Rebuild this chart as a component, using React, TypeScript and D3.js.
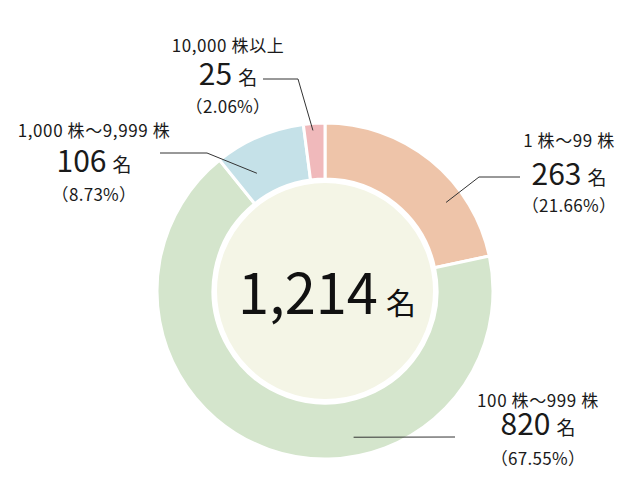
import { arc, pie, format, line } from "d3";

const width = 633;
const height = 500;
const cx = 325;
const cy = 291;
const outerR = 168;
const innerR = 112;
const coreR = 109;

const categories = ["1 株〜99 株", "100 株〜999 株", "1,000 株〜9,999 株", "10,000 株以上"];
const holders = [263, 820, 106, 25];
const shareLabels = ["21.66%", "67.55%", "8.73%", "2.06%"];
const colors = ["#eec4a9", "#d4e5cc", "#c5e1e8", "#f0b9bb"];

// label layout: centre x, baselines of the three lines
const labelX = [569, 538, 94, 228];
const labelY = [
  [147, 185, 212],
  [407, 435, 465],
  [137, 172, 201],
  [52, 85, 113],
];
// leader: points from the label side, then angle fraction in the slice + radius for the end
const leaderFrom = [
  [[520, 177], [479, 177]],
  [[455, 437]],
  [[160, 153], [207, 153]],
  [[263, 79], [298, 79]],
];
const anchorFrac = [0.69, 0.374, 0.28, 0.42];
const anchorR = [150, 149, 136, 161];

const font = "'Noto Sans CJK JP', 'Noto Sans', sans-serif";

function App() {
  const total = holders.reduce((a, b) => a + b, 0);
  const arcs = pie<number>().sort(null).value((d) => d)(holders);
  const arcGen = arc<any>().innerRadius(innerR).outerRadius(outerR);
  const fmt = format(",");
  const lineGen = line();

  return (
    <svg
      width={width}
      height={height}
      style={{ position: "absolute", left: 0, top: 0, background: "#fff" }}
      fontFamily={font}
    >
      <g transform={`translate(${cx},${cy})`}>
        {arcs.map((a, i) => (
          <path key={i} d={arcGen(a) || ""} fill={colors[i]} stroke="#fff" strokeWidth={3} />
        ))}
        <circle r={coreR} fill="#f4f5e6" stroke="#fff" strokeWidth={2} />
      </g>

      {arcs.map((a, i) => {
        const ang = a.startAngle + (a.endAngle - a.startAngle) * anchorFrac[i];
        const end: [number, number] = [
          cx + anchorR[i] * Math.sin(ang),
          cy - anchorR[i] * Math.cos(ang),
        ];
        const pts = [...(leaderFrom[i] as [number, number][]), end];
        return (
          <path key={i} d={lineGen(pts) || ""} fill="none" stroke="#333" strokeWidth={1} />
        );
      })}

      {categories.map((c, i) => (
        <g key={i} textAnchor="middle" fill="#1a1a1a">
          <text x={labelX[i]} y={labelY[i][0]} fontSize={17} letterSpacing={0.6}>
            {c}
          </text>
          <text x={labelX[i]} y={labelY[i][1]}>
            <tspan fontSize={30}>{holders[i]}</tspan>
            <tspan fontSize={19} dx={6}>名</tspan>
          </text>
          <text x={labelX[i]} y={labelY[i][2]} fontSize={17} letterSpacing={0.3}>
            （{shareLabels[i]}）
          </text>
        </g>
      ))}

      <text x={cx + 2} y={314} textAnchor="middle" fill="#111">
        <tspan fontSize={56}>{fmt(total)}</tspan>
        <tspan fontSize={30} dx={8}>名</tspan>
      </text>
    </svg>
  );
}

export default App;
